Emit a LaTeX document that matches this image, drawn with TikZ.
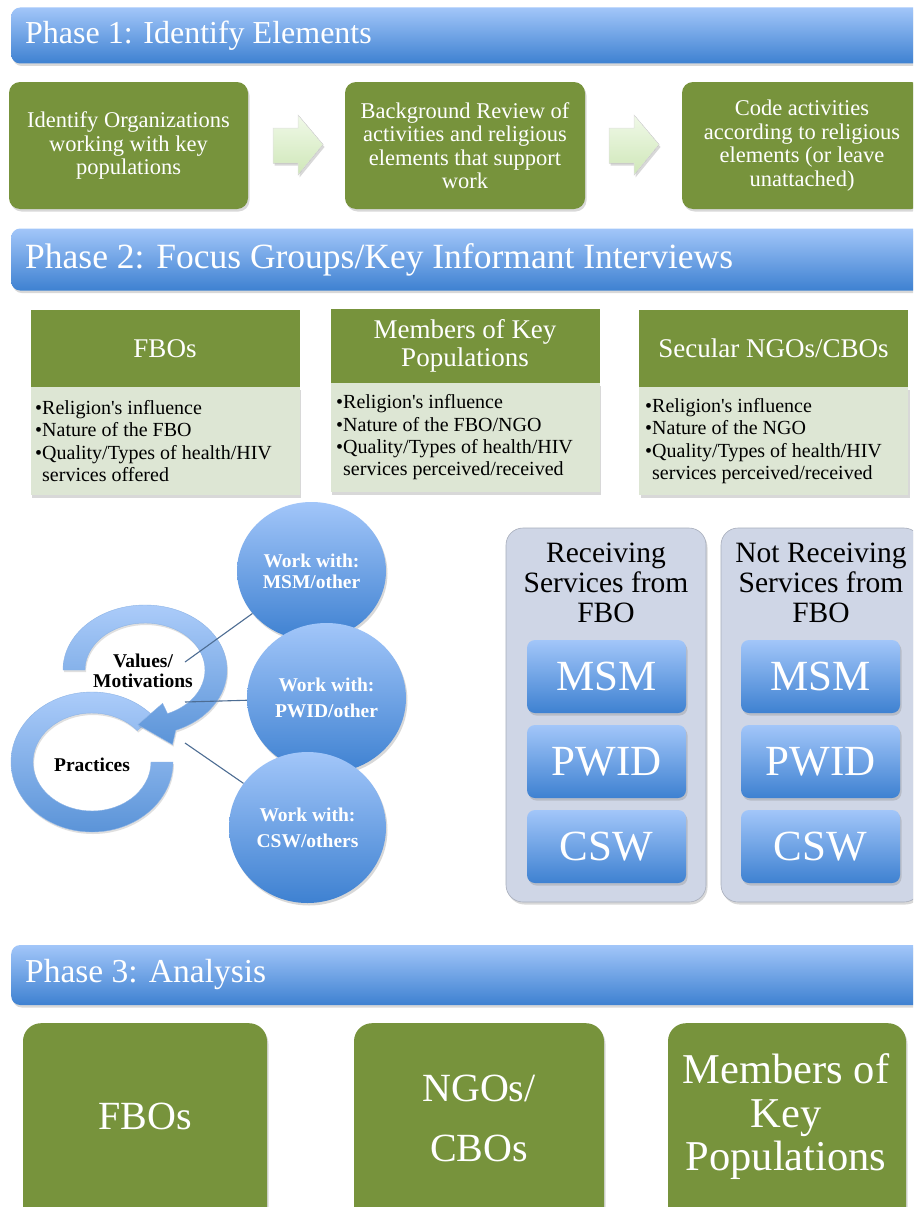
\documentclass[tikz,border=0pt]{standalone}
\usepackage{fontspec}
\setmainfont{Liberation Serif}
\usetikzlibrary{shadows,shapes.geometric}
\pgfdeclarelayer{bg}
\pgfdeclarelayer{back}
\pgfdeclarelayer{mid}
\pgfsetlayers{bg,back,mid,main}
\definecolor{olive}{HTML}{77933C}
\definecolor{bodybg}{HTML}{DDE6D4}
\definecolor{bluetop}{HTML}{A2C6F9}
\definecolor{bluebot}{HTML}{3E81D1}
\definecolor{paneledge}{HTML}{A7ADBB}
\definecolor{panelbg}{HTML}{CFD6E6}
\definecolor{arrowtop}{HTML}{F0F9E8}
\definecolor{arrowbot}{HTML}{CFE7B8}
\definecolor{linkcol}{HTML}{4D6D93}
\definecolor{arcedge}{HTML}{8DB4E6}
\tikzset{
  shad/.style={drop shadow={shadow xshift=1.5pt, shadow yshift=-2.5pt, opacity=0.3}},
  banner/.style={rounded corners=9pt, top color=bluetop, bottom color=bluebot, shad, inner sep=0pt},
  bannertext/.style={text=white, inner sep=0pt, anchor=west},
  greenbox/.style={fill=olive, rounded corners=11pt, shad, text=white, align=center, inner sep=0pt, font=\fontsize{22.5}{23.4}\selectfont},
  hdrbox/.style={fill=olive, text=white, align=center, inner sep=0pt, font=\fontsize{27}{28.5}\selectfont},
  bodybox/.style={fill=bodybg, shad, inner sep=0pt},
  bodytext/.style={align=left, inner sep=0pt, anchor=west, font=\fontsize{20}{22.3}\selectfont},
  flowarrow/.style={top color=arrowtop, bottom color=arrowbot, draw=black!12, line width=0.5pt, shad},
  cyclearrow/.style={top color=bluetop!90!white, bottom color=bluebot!85!white, draw=arcedge, line width=0.4pt, drop shadow={shadow xshift=1pt, shadow yshift=-2pt, opacity=0.25}},
  cycletext/.style={align=center, inner sep=0pt, font=\bfseries\fontsize{19.5}{19.5}\selectfont},
  link/.style={draw=linkcol, line width=1.1pt},
  workcirc/.style={ellipse, top color=bluetop, bottom color=bluebot, shad, text=white, align=center, inner sep=0pt, font=\bfseries\fontsize{19.5}{26}\selectfont},
  panel/.style={fill=panelbg, draw=paneledge, line width=0.6pt, rounded corners=17pt, shad, inner sep=0pt},
  paneltext/.style={align=center, inner sep=0pt, font=\fontsize{29.5}{30}\selectfont},
  popbox/.style={top color=bluetop, bottom color=bluebot, rounded corners=8pt, shad, text=white, inner sep=0pt, minimum width=159pt, minimum height=73pt, font=\fontsize{43}{45}\selectfont},
  bigbox/.style={fill=olive, rounded corners=18pt, shad, text=white, inner sep=0pt},
  bigtext/.style={text=white, align=center, inner sep=0pt, font=\fontsize{42.5}{43.5}\selectfont}
}
\begin{document}
\begin{tikzpicture}[x=1pt,y=-1pt]
\useasboundingbox (0,0) rectangle (913,1207);
\clip (0,0) rectangle (913,1207);
\begin{pgfonlayer}{bg}
\fill[white] (0,0) rectangle (913,1207);
\end{pgfonlayer}

% ---------- Phase 1 ----------
\node[banner, minimum width=925pt, minimum height=56pt, anchor=west] (ban1) at (11,35.5) {};
\node[bannertext, font=\fontsize{32}{34}\selectfont] (ban1t) at (25,36) {Phase 1: Identify Elements};

\node[greenbox, minimum width=239pt, minimum height=127pt] (idorg) at (128.5,145.5) {Identify Organizations\\working with key\\populations};
\node[greenbox, minimum width=240pt, minimum height=127pt] (bgrev) at (465,145.5) {Background Review of\\activities and religious\\elements that support\\work};
\node[greenbox, minimum width=240pt, minimum height=127pt] (code) at (802,145.5) {Code activities\\according to religious\\elements (or leave\\unattached)};

\fill[flowarrow] (273,128) -- (298,128) -- (298,115) -- (323,144.5) -- (298,175) -- (298,163) -- (273,163) -- cycle;
\fill[flowarrow] (609,128) -- (634,128) -- (634,115) -- (659,144.5) -- (634,175) -- (634,163) -- (609,163) -- cycle;

% ---------- Phase 2 ----------
\node[banner, minimum width=925pt, minimum height=62pt, anchor=west] (ban2) at (11,259.5) {};
\node[bannertext, font=\fontsize{35.5}{38}\selectfont] (ban2t) at (25,260) {Phase 2: Focus Groups/Key Informant Interviews};

\node[bodybox, minimum width=269pt, minimum height=108pt] (fbob) at (165,441) {};
\node[hdrbox, minimum width=269pt, minimum height=77pt] (fboh) at (165,348.5) {FBOs};
\node[bodytext] (fbot) at (35,441) {•Religion\textquotesingle s influence\\•Nature of the FBO\\•Quality/Types of health/HIV\\\hphantom{•}services offered};

\node[bodybox, minimum width=269pt, minimum height=109pt] (memb) at (465,437.5) {};
\node[hdrbox, minimum width=269pt, minimum height=74pt] (memh) at (465,346) {Members of Key\\Populations};
\node[bodytext] (memt) at (336,437.5) {•Religion\textquotesingle s influence\\•Nature of the FBO/NGO\\•Quality/Types of health/HIV\\\hphantom{•}services perceived/received};

\node[bodybox, minimum width=269pt, minimum height=108pt] (secb) at (773.5,441) {};
\node[hdrbox, minimum width=269pt, minimum height=77pt] (sech) at (773.5,348.5) {Secular NGOs/CBOs};
\node[bodytext] (sect) at (645,441) {•Religion\textquotesingle s influence\\•Nature of the NGO\\•Quality/Types of health/HIV\\\hphantom{•}services perceived/received};

% ---------- cycle ----------
\coordinate (c1) at (145,670);
\coordinate (c2) at (92,762);
\begin{pgfonlayer}{back}
\path[cyclearrow] ([shift={(0:81pt and 70pt)}]c2)
  arc[start angle=0, end angle=-320, x radius=81pt, y radius=70pt]
  -- ([shift={(40:59pt and 49pt)}]c2)
  arc[start angle=40, end angle=360, x radius=59pt, y radius=49pt] -- cycle;
\path[cyclearrow] ([shift={(180:82pt and 65pt)}]c1)
  arc[start angle=180, end angle=-68, x radius=82pt, y radius=65pt]
  -- ([shift={(-73:94pt and 78pt)}]c1)
  -- ([shift={(-96:68pt and 55pt)}]c1)
  -- ([shift={(-68:47pt and 36pt)}]c1)
  -- ([shift={(-68:60pt and 47pt)}]c1)
  arc[start angle=-68, end angle=180, x radius=60pt, y radius=47pt] -- cycle;
\end{pgfonlayer}

\node[cycletext] (vals) at (143,671) {Values/\\Motivations};
\node[cycletext] (prac) at (92,765) {Practices};

\coordinate (l1) at (185,662);
\coordinate (l2) at (185,702);
\coordinate (l3) at (185,743);

\node[workcirc, minimum width=149pt, minimum height=138pt, font=\bfseries\fontsize{19.5}{21}\selectfont] (wmsm) at (311.5,571) {Work with:\\MSM/other};
\node[workcirc, minimum width=159pt, minimum height=150pt] (wpwid) at (326.5,698) {Work with:\\PWID/other};
\node[workcirc, minimum width=157pt, minimum height=151pt] (wcsw) at (307.5,827.5) {Work with:\\CSW/others};

\begin{pgfonlayer}{mid}
\draw[link] (l1) -- (wmsm);
\draw[link] (l2) -- (wpwid);
\draw[link] (l3) -- (wcsw);
\end{pgfonlayer}

% ---------- receiving panels ----------
\node[panel, minimum width=200pt, minimum height=374pt] (recv) at (606,715) {};
\node[paneltext] (recvt) at (606,583) {Receiving\\Services from\\FBO};
\node[popbox] (rmsm) at (606.5,676.5) {MSM};
\node[popbox] (rpwid) at (606.5,761.5) {PWID};
\node[popbox] (rcsw) at (606.5,846.5) {CSW};

\node[panel, minimum width=200pt, minimum height=374pt] (nrecv) at (821,715) {};
\node[paneltext] (nrecvt) at (821,583) {Not Receiving\\Services from\\FBO};
\node[popbox] (nmsm) at (820.5,676.5) {MSM};
\node[popbox] (npwid) at (820.5,761.5) {PWID};
\node[popbox] (ncsw) at (820.5,846.5) {CSW};

% ---------- Phase 3 ----------
\node[banner, minimum width=925pt, minimum height=60pt, anchor=west] (ban3) at (11,975) {};
\node[bannertext, font=\fontsize{33.5}{36}\selectfont] (ban3t) at (25,974) {Phase 3: Analysis};

\node[bigbox, minimum width=244pt, minimum height=210pt, anchor=north] (afbo) at (145,1023) {};
\node[bigtext, font=\fontsize{40}{43.5}\selectfont] (afbot) at (145,1116) {FBOs};
\node[bigbox, minimum width=250pt, minimum height=210pt, anchor=north] (ango) at (479,1023) {};
\node[bigtext, font=\fontsize{40}{60}\selectfont] (angot) at (479,1118) {NGOs/\\CBOs};
\node[bigbox, minimum width=238pt, minimum height=210pt, anchor=north] (amem) at (787,1023) {};
\node[bigtext] (amemt) at (786,1117) {Members of\\Key\\Populations};
\end{tikzpicture}
\end{document}
